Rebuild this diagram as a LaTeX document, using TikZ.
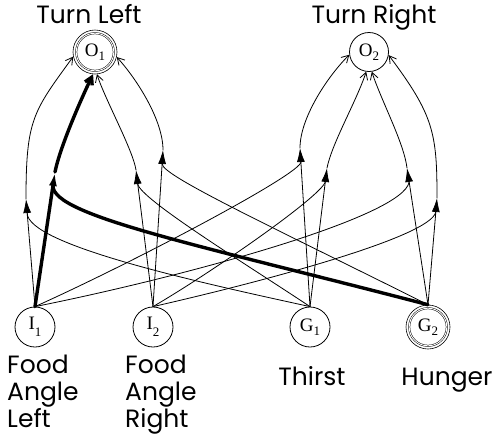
\documentclass[tikz,border=0pt]{standalone}
\usepackage{fontspec}
\setmainfont{Poppins}
\newfontfamily\unitfont{Liberation Serif}
\usetikzlibrary{arrows.meta,calc}
\definecolor{nnInk}{HTML}{000000}
\tikzset{
 net/.style={x=1pt,y=1pt,line cap=round,line join=round,text=nnInk},
 unit/.style={circle,draw=nnInk,line width=.8pt,inner sep=0pt,minimum size=40pt,
   font=\fontsize{19}{19}\unitfont},
 active/.style={unit,minimum size=44pt,line width=.6pt},
 ring/.style={draw=nnInk,line width=.5pt,double,double distance=.9pt},
 feed/.style={draw=nnInk,line width=.8pt,-{Latex[length=14pt,width=8pt]}},
 cross/.style={draw=nnInk,line width=.8pt},
 toout/.style={draw=nnInk,line width=.8pt,-{Straight Barb[length=7pt,width=8pt]}},
 win/.style={line width=3.4pt},
 caption/.style={anchor=base,inner sep=0pt,font=\fontsize{25}{27}\selectfont},
 captionlist/.style={caption,anchor=base west,align=left}
}
\newcommand{\unitname}[3][-4pt]{#2\raisebox{#1}{\fontsize{13}{13}\selectfont #3}}

\begin{document}
\begin{tikzpicture}[net]
 \useasboundingbox (0,0) rectangle (497,-437);
 % units
 \node[active] (O1) at (95,-52) {\unitname{O}{1}};
 \draw[ring] (O1.center) circle (18.8);
 \node[unit,minimum size=39pt] (O2) at (369,-52) {\unitname{O}{2}};
 \node[unit] (I1) at (35,-327) {\unitname[-7pt]{I}{1}};
 \node[unit] (I2) at (153,-327) {\unitname[-7pt]{I}{2}};
 \node[unit] (G1) at (310,-327) {\unitname{G}{1}};
 \node[active] (G2) at (428,-327) {\unitname{G}{2}};
 \draw[ring] (G2.center) circle (18.8);
 % captions (base = last line)
 \node[caption] (turnL) at (89,-23) {Turn Left};
 \node[caption] (turnR) at (374,-23) {Turn Right};
 \node[captionlist] (foodL) at (7,-427) {Food\\Angle\\Left};
 \node[captionlist] (foodR) at (125,-427) {Food\\Angle\\Right};
 \node[caption] (thirst) at (312,-385) {Thirst};
 \node[caption] (hunger) at (447,-385) {Hunger};
 % junctions (arrow tips)
 \coordinate (j1) at (26,-199);  \coordinate (j2) at (55,-172);
 \coordinate (j3) at (136,-170); \coordinate (j4) at (163,-150);
 \coordinate (j5) at (300,-148); \coordinate (j6) at (327,-168);
 \coordinate (j7) at (407,-168); \coordinate (j8) at (437,-198);
 \foreach \j/\s in {1/I1,2/I1,3/I2,4/I2,5/G1,6/G1,7/G2,8/G2}
   \coordinate (b\j) at ($(j\j)!14pt!(\s.north)$);
 % direct inputs
 \foreach \j/\s in {1/I1,3/I2,4/I2,5/G1,6/G1,7/G2,8/G2}
   \draw[feed] (\s.north) -- (j\j);
 \draw[feed,win] (I1.north) -- (j2);
 % crossed inputs
 \draw[cross] (b1) .. controls +(0,-32) and +(-110,24) .. (G1.north);
 \draw[cross,win] (b2) .. controls +(0,-30) and +(-230,60) .. (G2.north);
 \draw[cross] (b3) .. controls +(2,-15) and +(-60,40) .. (G1.north);
 \draw[cross] (b4) .. controls +(0,-12) and +(-150,75) .. (G2.north);
 \draw[cross] (b5) .. controls +(0,-12) and +(100,45) .. (I1.north);
 \draw[cross] (b6) .. controls +(-5,-15) and +(60,35) .. (I2.north);
 \draw[cross] (b7) .. controls +(-5,-35) and +(150,30) .. (I1.north);
 \draw[cross] (b8) .. controls +(-5,-25) and +(110,25) .. (I2.north);
 % to outputs
 \draw[toout] (j1) .. controls +(0,80) and +(-40,-55) .. (O1.192);
 \draw[toout,win] (j2) .. controls +(5,25) and +(-12,-25) .. (O1.265);
 \draw[toout] (j3) .. controls +(-3,20) and +(8,-25) .. (O1.275);
 \draw[toout] (j4) .. controls +(0,30) and +(20,-22) .. (O1.347);
 \draw[toout] (j5) .. controls +(0,30) and +(-22,-22) .. (O2.188);
 \draw[toout] (j6) .. controls +(5,25) and +(-10,-30) .. (O2.262);
 \draw[toout] (j7) .. controls +(-3,25) and +(10,-30) .. (O2.278);
 \draw[toout] (j8) .. controls +(0,65) and +(45,-60) .. (O2.351);
\end{tikzpicture}
\end{document}
